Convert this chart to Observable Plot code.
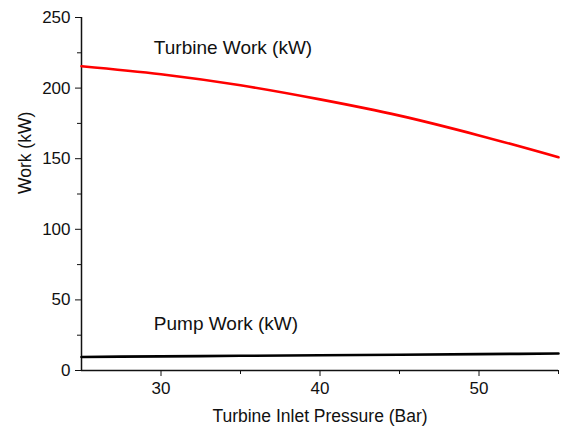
<!DOCTYPE html>
<html><head><meta charset="utf-8">
<script src="https://cdn.jsdelivr.net/npm/d3@7"></script>
<script src="https://cdn.jsdelivr.net/npm/@observablehq/plot@0.6"></script>
<style>body{margin:0;background:#fff}</style>
</head><body><div id="chart"></div>
<script>
const pressure = [25, 30, 35, 40, 45, 50, 55];
const turbineWork = [215.5, 209.8, 202, 192, 180.5, 166.5, 151];
const pumpWork = [9.6, 10.0, 10.4, 10.8, 11.2, 11.6, 12.0];
const xMajor = [30, 40, 50];
const xMinor = [35, 45, 55];
const yMajor = [0, 50, 100, 150, 200, 250];
const yMinor = [25, 75, 125, 175, 225];
const labels = [
  {x: 29.55, y: 228.7, text: "Turbine Work (kW)"},
  {x: 29.55, y: 33.3, text: "Pump Work (kW)"}
];
const turbine = pressure.map((p, i) => ({x: p, y: turbineWork[i]}));
const pump = pressure.map((p, i) => ({x: p, y: pumpWork[i]}));

const chart = Plot.plot({
  width: 561, height: 430,
  marginLeft: 81, marginRight: 3, marginTop: 17, marginBottom: 60,
  style: {fontFamily: "'Liberation Sans', Arial, sans-serif", fontSize: "17px", color: "#111", background: "#fff"},
  x: {domain: [25, 55]},
  y: {domain: [0, 250]},
  marks: [
    Plot.axisX(xMajor, {tickSize: 6, tickPadding: 5, fontSize: 17, label: null}),
    Plot.axisX(xMinor, {tickSize: 4, tickFormat: () => "", label: null}),
    Plot.axisY(yMajor, {tickSize: 6, tickPadding: 5, fontSize: 17, label: null}),
    Plot.axisY(yMinor, {tickSize: 4, tickFormat: () => "", label: null}),
    Plot.ruleX([25], {stroke: "#111", strokeWidth: 1.5}),
    Plot.ruleY([0], {stroke: "#111", strokeWidth: 1.5}),
    Plot.line(turbine, {x: "x", y: "y", stroke: "#ff0000", strokeWidth: 2.6, curve: "monotone-x"}),
    Plot.line(pump, {x: "x", y: "y", stroke: "#000", strokeWidth: 2.6, curve: "monotone-x"}),
    Plot.text(labels, {x: "x", y: "y", text: "text", textAnchor: "start", fontSize: 19, fill: "#111"}),
    Plot.text(["Turbine Inlet Pressure (Bar)"], {frameAnchor: "bottom", dy: 51, fontSize: 17.5, fill: "#111"}),
    Plot.text(["Work (kW)"], {frameAnchor: "left", dx: -56, rotate: -90, fontSize: 17.5, fill: "#111"})
  ]
});
document.getElementById("chart").append(chart);
</script>
</body></html>
